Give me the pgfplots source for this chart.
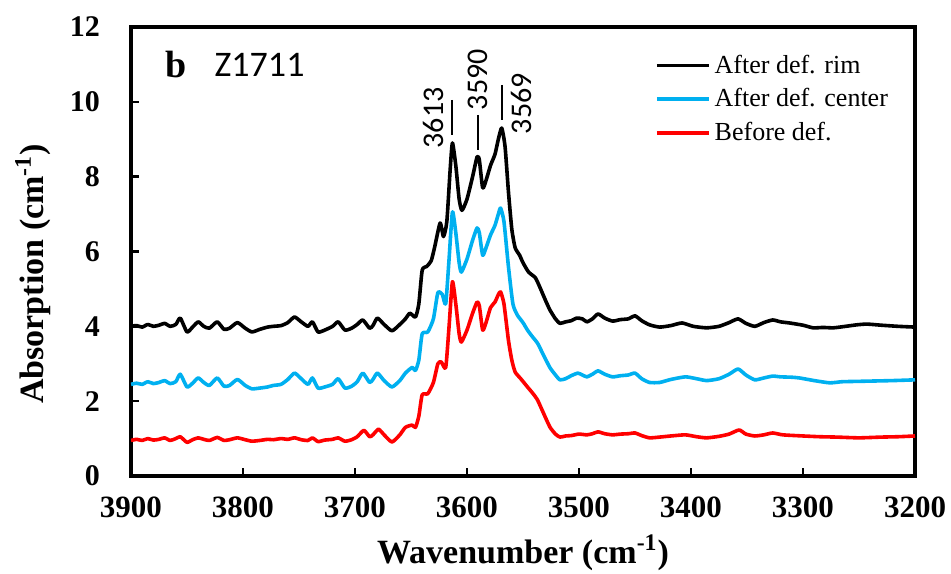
\documentclass[border=0pt]{standalone}
\usepackage{pgfplots}
\pgfplotsset{compat=1.18}
\usepackage{fontspec}
\setmainfont{Liberation Serif}
\newfontfamily\carlito{Carlito}
\definecolor{rimBlack}{RGB}{0,0,0}
\definecolor{centerBlue}{RGB}{0,176,240}
\definecolor{beforeRed}{RGB}{255,0,0}

\begin{document}
\begin{tikzpicture}
\useasboundingbox (-65.5pt,-48.5pt) rectangle (410pt,238pt);
\begin{axis}[
    scale only axis,
    width=392pt, height=224.5pt,
    x dir=reverse,
    xmin=3200, xmax=3900,
    ymin=0, ymax=12,
    xtick={3200,3300,...,3900},
    ytick={0,2,...,12},
    xtick pos=bottom, ytick pos=left,
    tick align=inside,
    major tick length=4pt,
    tick style={line width=1.3pt, black},
    axis line style={line width=2pt},
    /pgf/number format/assume math mode=true,
    /pgf/number format/1000 sep={},
    xticklabel style={font=\fontsize{15.5}{15.5}\selectfont\bfseries, yshift=-7pt},
    yticklabel style={font=\fontsize{15}{15}\selectfont\bfseries, xshift=-12pt},
    xlabel={Wavenumber (cm\textsuperscript{-1})},
    ylabel={Absorption (cm\textsuperscript{-1})},
    xlabel style={font=\fontsize{17}{17}\selectfont\bfseries, at={(axis description cs:0.5,-0.171)}, anchor=center},
    ylabel style={font=\fontsize{17}{17}\selectfont\bfseries, at={(axis description cs:-0.125,0.45)}, anchor=center},
    legend style={draw=none, fill=none, at={(0.668,0.948)}, anchor=north west,
        font=\fontsize{13}{15}\selectfont, row sep=2.2pt, inner sep=0pt},
    legend cell align=left,
    legend image code/.code={\draw[#1] (0pt,0pt) -- (26pt,0pt);},
    every axis plot/.append style={line width=1.8pt, line join=round, smooth, tension=0.35},
]

% After def. rim
\addplot[rimBlack] coordinates {
(3900,4.00) (3895,4.02) (3890,3.98) (3885,4.05) (3880,4.00) (3875,4.03) (3870,4.08)
(3865,4.00) (3860,4.05) (3856,4.22) (3850,3.85) (3845,3.98) (3840,4.12) (3835,4.00)
(3830,3.95) (3823,4.12) (3817,3.92) (3812,3.95) (3805,4.10) (3798,3.95) (3792,3.85)
(3785,3.92) (3778,3.98) (3773,4.00) (3766,4.02) (3760,4.10) (3754,4.25) (3748,4.12)
(3742,4.00) (3738,4.12) (3733,3.85) (3727,3.90) (3720,4.00) (3715,4.12) (3709,3.90)
(3703,3.95) (3698,4.05) (3693,4.17) (3687,3.95) (3684,4.02) (3680,4.22) (3674,4.05)
(3667,3.88) (3660,4.05) (3655,4.20) (3651,4.35) (3646,4.25) (3643,4.60) (3640,5.50)
(3636,5.60) (3632,5.75) (3629,6.10) (3624,6.76) (3621,6.40) (3618,6.80) (3615,8.20)
(3613,8.90) (3610,8.30) (3607,7.40) (3604.5,7.10) (3600,7.40) (3595,8.00) (3591,8.53)
(3589,8.45) (3586,7.70) (3583,7.90) (3579,8.30) (3575,8.60) (3572,9.00) (3569,9.30)
(3566,8.80) (3563,7.60) (3560,6.60) (3557,6.10) (3553,5.90) (3550,5.70) (3545,5.45)
(3539,5.30) (3535,5.05) (3530,4.70) (3526,4.44) (3521,4.20) (3517,4.08) (3512,4.12)
(3507,4.15) (3502,4.22) (3497,4.20) (3493,4.12) (3488,4.20) (3483,4.33) (3477,4.22)
(3470,4.14) (3463,4.18) (3456,4.20) (3450,4.28) (3444,4.15) (3437,4.04) (3428,3.98)
(3418,4.02) (3408,4.09) (3398,4.00) (3386,3.96) (3375,4.00) (3366,4.10) (3358,4.20)
(3351,4.08) (3343,4.00) (3335,4.10) (3327,4.17) (3320,4.12) (3312,4.09) (3300,4.03)
(3291,3.96) (3282,3.97) (3273,3.96) (3262,4.00) (3252,4.04) (3243,4.06) (3230,4.03)
(3215,4.00) (3200,3.98)
};
\addlegendentry{After def. rim}

% After def. center
\addplot[centerBlue] coordinates {
(3900,2.45) (3895,2.48) (3890,2.45) (3885,2.52) (3880,2.47) (3875,2.50) (3870,2.55)
(3865,2.47) (3860,2.52) (3856,2.72) (3850,2.38) (3845,2.48) (3840,2.62) (3835,2.50)
(3830,2.42) (3823,2.62) (3817,2.40) (3812,2.42) (3805,2.58) (3798,2.42) (3792,2.33)
(3785,2.35) (3778,2.38) (3773,2.42) (3766,2.45) (3760,2.58) (3754,2.75) (3748,2.60)
(3742,2.45) (3738,2.62) (3733,2.35) (3727,2.38) (3720,2.45) (3715,2.60) (3709,2.35)
(3703,2.40) (3698,2.52) (3693,2.75) (3687,2.50) (3684,2.58) (3680,2.75) (3674,2.55)
(3667,2.38) (3660,2.55) (3655,2.75) (3649,2.90) (3646,2.82) (3643,3.10) (3640,3.80)
(3635,3.85) (3630,4.20) (3626,4.90) (3622,4.85) (3619,4.60) (3616,5.80) (3613,7.06)
(3610,6.50) (3607,5.70) (3605,5.45) (3600,5.80) (3595,6.30) (3591,6.63) (3589,6.50)
(3586,5.90) (3583,6.10) (3579,6.44) (3575,6.70) (3572,7.00) (3570,7.16) (3567,6.80)
(3563,5.60) (3559,4.60) (3555,4.30) (3550,4.10) (3546,3.90) (3541,3.70) (3537,3.55)
(3532,3.25) (3526,2.90) (3521,2.70) (3517,2.57) (3512,2.60) (3507,2.68) (3501,2.75)
(3497,2.70) (3493,2.65) (3488,2.72) (3483,2.81) (3477,2.72) (3470,2.65) (3463,2.68)
(3456,2.70) (3450,2.75) (3444,2.60) (3437,2.50) (3428,2.50) (3418,2.58) (3405,2.65)
(3395,2.60) (3386,2.55) (3375,2.60) (3366,2.72) (3358,2.86) (3351,2.70) (3343,2.57)
(3335,2.62) (3327,2.67) (3320,2.65) (3310,2.64) (3303,2.62) (3290,2.55) (3276,2.49)
(3265,2.52) (3250,2.53) (3235,2.54) (3220,2.55) (3200,2.57)
};
\addlegendentry{After def. center}

% Before def.
\addplot[beforeRed] coordinates {
(3900,0.95) (3895,0.98) (3890,0.95) (3885,1.00) (3880,0.96) (3875,0.98) (3870,1.02)
(3865,0.95) (3860,1.00) (3856,1.05) (3850,0.90) (3845,0.97) (3840,1.02) (3835,0.98)
(3830,0.95) (3823,1.03) (3817,0.95) (3812,0.97) (3805,1.02) (3798,0.97) (3792,0.93)
(3785,0.95) (3778,0.98) (3773,0.97) (3766,1.00) (3760,0.98) (3754,1.02) (3748,0.97)
(3742,0.95) (3738,1.02) (3733,0.92) (3727,0.96) (3720,0.98) (3715,1.02) (3709,0.93)
(3703,0.97) (3698,1.05) (3692,1.22) (3687,1.05) (3684,1.10) (3679,1.25) (3674,1.10)
(3667,0.91) (3660,1.10) (3655,1.30) (3649,1.36) (3646,1.30) (3643,1.60) (3640,2.17)
(3635,2.20) (3630,2.50) (3626,3.00) (3623,3.05) (3619,2.90) (3616,4.00) (3613,5.19)
(3610,4.60) (3607,3.80) (3605,3.58) (3600,3.90) (3595,4.35) (3591,4.65) (3589,4.55)
(3586,3.90) (3583,4.10) (3579,4.50) (3575,4.65) (3572,4.85) (3570,4.92) (3567,4.60)
(3563,3.63) (3560,3.10) (3557,2.78) (3552,2.60) (3546,2.38) (3541,2.20) (3537,2.03)
(3532,1.70) (3526,1.31) (3521,1.12) (3517,1.04) (3512,1.07) (3507,1.08) (3500,1.12)
(3493,1.10) (3488,1.13) (3483,1.18) (3477,1.13) (3470,1.10) (3463,1.12) (3456,1.13)
(3450,1.15) (3444,1.08) (3437,1.02) (3428,1.04) (3418,1.07) (3405,1.10) (3395,1.05)
(3386,1.02) (3375,1.06) (3366,1.12) (3357,1.23) (3351,1.12) (3343,1.07) (3335,1.10)
(3327,1.15) (3318,1.10) (3300,1.07) (3285,1.05) (3270,1.04) (3250,1.02) (3230,1.04)
(3215,1.05) (3200,1.07)
};
\addlegendentry{Before def.}

% panel label
\node[anchor=center, font=\fontsize{19}{19}\selectfont\bfseries] at (axis description cs:0.057,0.917) {b};
\node[anchor=center, font=\carlito\fontsize{18}{18}\selectfont] at (axis description cs:0.164,0.915) {Z1711};

% peak markers
\draw[line width=1pt] (axis cs:3613,10.05) -- (axis cs:3613,9.12);
\draw[line width=1pt] (axis cs:3590,9.65) -- (axis cs:3590,8.72);
\draw[line width=1pt] (axis cs:3569,10.45) -- (axis cs:3569,9.52);
\node[rotate=90, anchor=center, font=\carlito\fontsize{15}{15}\selectfont] at (axis cs:3630,9.57) {3613};
\node[rotate=90, anchor=center, font=\carlito\fontsize{15}{15}\selectfont] at (axis cs:3590,10.59) {3590};
\node[rotate=90, anchor=center, font=\carlito\fontsize{15}{15}\selectfont] at (axis cs:3551,9.95) {3569};
\end{axis}
\end{tikzpicture}
\end{document}
